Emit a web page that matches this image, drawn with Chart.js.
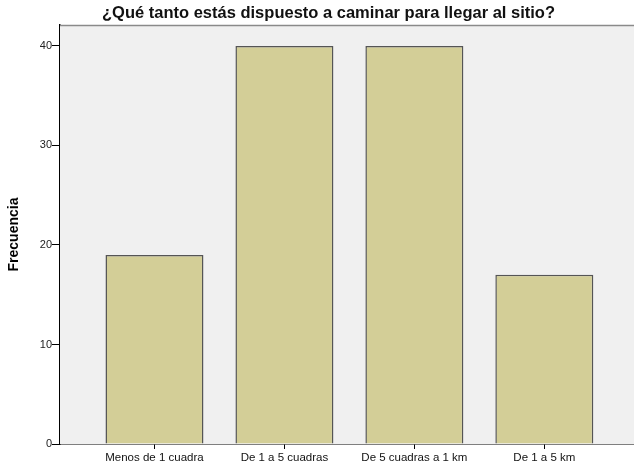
<!DOCTYPE html>
<html>
<head>
<meta charset="utf-8">
<script src="https://cdn.jsdelivr.net/npm/chart.js@4.4.1/dist/chart.umd.min.js"></script>
<style>
  html, body { margin: 0; padding: 0; background: #fff; }
  #wrap { width: 634px; height: 465px; }
</style>
</head>
<body>
<div id="wrap"><canvas id="chart"></canvas></div>
<script>
// Chart data
const titulo = '¿Qué tanto estás dispuesto a caminar para llegar al sitio?';
const categorias = ['Menos de 1 cuadra', 'De 1 a 5 cuadras', 'De 5 cuadras a 1 km', 'De 1 a 5 km'];
const frecuencias = [19, 40, 40, 17];
const yTicks = [0, 10, 20, 30, 40];

// Plot background + top border + title
const spssLook = {
  id: 'spssLook',
  beforeDatasetsDraw(chart) {
    const { ctx, chartArea: a } = chart;
    ctx.save();
    ctx.fillStyle = '#f0f0f0';
    ctx.fillRect(a.left, a.top, a.right - a.left, a.bottom - a.top);
    ctx.strokeStyle = '#8a8a8a';
    ctx.lineWidth = 1.5;
    ctx.beginPath();
    ctx.moveTo(a.left, a.top + 0.5);
    ctx.lineTo(a.right, a.top + 0.5);
    ctx.stroke();
    ctx.restore();
  },
  afterDraw(chart) {
    const { ctx } = chart;
    ctx.save();
    ctx.font = 'bold 16.5px "Liberation Sans", Arial, sans-serif';
    ctx.fillStyle = '#111';
    ctx.textAlign = 'center';
    ctx.textBaseline = 'alphabetic';
    ctx.fillText(titulo, 328.5, 18);
    ctx.restore();
  }
};

new Chart(document.getElementById('chart'), {
  type: 'bar',
  data: {
    datasets: [{
      label: 'Frecuencia',
      data: frecuencias.map((v, i) => ({ x: i, y: v })),
      backgroundColor: '#d3ce97',
      borderColor: '#555555',
      borderWidth: 1.5,
      categoryPercentage: 1,
      barPercentage: 0.754
    }]
  },
  options: {
    responsive: true,
    maintainAspectRatio: false,
    animation: false,
    layout: { padding: { top: 25, right: 0, left: 0, bottom: 0 } },
    plugins: {
      legend: { display: false },
      tooltip: { enabled: false }
    },
    scales: {
      x: {
        type: 'linear',
        offset: false,
        min: -0.727,
        max: 3.69,
        afterBuildTicks: (scale) => { scale.ticks = categorias.map((_, i) => ({ value: i })); },
        afterFit: (scale) => { scale.height = 21; },
        grid: { drawOnChartArea: false, drawTicks: true, tickLength: 5, color: '#000', offset: false },
        border: { display: true, color: '#000', width: 1.5 },
        ticks: {
          autoSkip: false,
          maxRotation: 0,
          padding: 2,
          color: '#111',
          font: { family: '"Liberation Sans", Arial, sans-serif', size: 11.5 },
          callback: (v) => categorias[v]
        }
      },
      y: {
        min: 0,
        max: 42.1,
        afterBuildTicks: (scale) => { scale.ticks = yTicks.map(v => ({ value: v })); },
        afterFit: (scale) => { scale.width = 60; },
        grid: { drawOnChartArea: false, drawTicks: true, tickLength: 8, color: '#000' },
        border: { display: true, color: '#000', width: 1.5 },
        title: {
          display: true,
          text: 'Frecuencia',
          color: '#000',
          font: { family: '"Liberation Sans", Arial, sans-serif', size: 14, weight: 'bold' },
          padding: { top: 6, bottom: 0 }
        },
        ticks: {
          padding: 0,
          color: '#222',
          font: { family: '"Liberation Sans", Arial, sans-serif', size: 11 }
        }
      }
    }
  },
  plugins: [spssLook]
});
</script>
</body>
</html>
